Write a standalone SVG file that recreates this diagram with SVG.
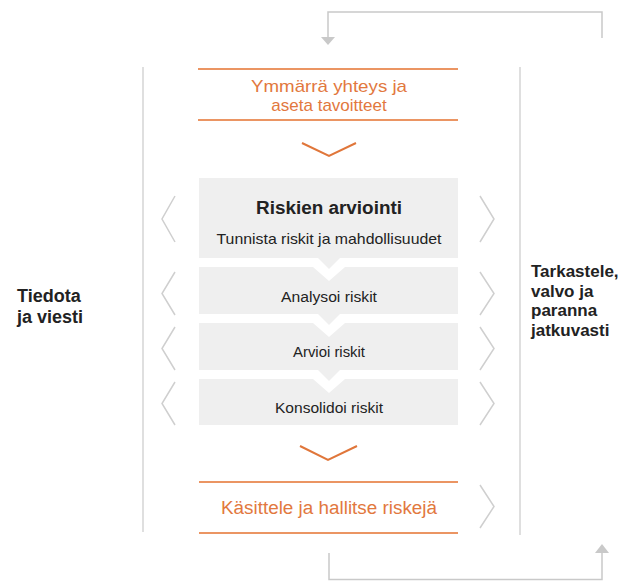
<svg xmlns="http://www.w3.org/2000/svg" width="629" height="581" viewBox="0 0 629 581">
<defs>
<style>
.conn{fill:none;stroke:#c9c9c9;stroke-width:1.5}
.head{fill:#c9c9c9}
.rail{stroke:#d4d4d4;stroke-width:1.5}
.side{fill:none;stroke:#cfcfcf;stroke-width:1.5}
.oline{stroke:#eb9563;stroke-width:2}
.ochev{fill:none;stroke:#e0763a;stroke-width:2}
.box{fill:#efefef}
.notch{fill:#ffffff}
.otext{font-family:"Liberation Sans",Arial,sans-serif;fill:#e2783e;text-anchor:middle}
.dtext{font-family:"Liberation Sans",Arial,sans-serif;fill:#222222}
.btext{font-family:"Liberation Sans",Arial,sans-serif;fill:#222222;text-anchor:middle}
</style>
</defs>
<g id="connectors">
<polyline class="conn" points="602,38 602,12 328,12 328,37"/>
<polygon class="head" points="321,37 335,37 328,45"/>
<polyline class="conn" points="329,553 329,579.5 602,579.5 602,553"/>
<polygon class="head" points="595,553 609,553 602,544"/>
<line class="rail" x1="143" y1="67" x2="143" y2="532"/>
<line class="rail" x1="520" y1="67" x2="520" y2="535"/>
<polyline class="ochev" points="302,143 329,156 356,143"/>
<polyline class="ochev" points="300,446 328,460 357,446"/>
</g>
<g id="node-context">
<line class="oline" x1="198" y1="69" x2="458" y2="69"/>
<line class="oline" x1="198" y1="120" x2="458" y2="120"/>
<text class="otext" x="329" y="92" font-size="17" textLength="156" lengthAdjust="spacingAndGlyphs">Ymmärrä yhteys ja</text>
<text class="otext" x="329" y="111" font-size="17">aseta tavoitteet</text>
</g>
<g id="node-konsolidoi">
<rect class="box" x="199" y="379" width="259" height="46"/>
<polygon class="notch" points="313,379 345,379 329,393"/>
<text class="btext" x="329" y="413" font-size="14" textLength="108" lengthAdjust="spacingAndGlyphs">Konsolidoi riskit</text>
<polyline class="side" points="175,382 162,403.5 175,425"/>
<polyline class="side" points="480,382 494,403.5 480,425"/>
</g>
<g id="node-arvioi">
<rect class="box" x="199" y="323" width="259" height="47"/>
<polygon class="notch" points="313,323 345,323 329,337"/>
<polygon class="box" points="318,370 340,370 329,381"/>
<text class="btext" x="329" y="357" font-size="14" textLength="72" lengthAdjust="spacingAndGlyphs">Arvioi riskit</text>
<polyline class="side" points="175,327 162,348.5 175,370"/>
<polyline class="side" points="480,327 494,348.5 480,370"/>
</g>
<g id="node-analysoi">
<rect class="box" x="199" y="267" width="259" height="47"/>
<polygon class="notch" points="313,267 345,267 329,281"/>
<polygon class="box" points="318,314 340,314 329,325"/>
<text class="btext" x="329" y="302" font-size="14" textLength="96" lengthAdjust="spacingAndGlyphs">Analysoi riskit</text>
<polyline class="side" points="175,272 162,293.5 175,315"/>
<polyline class="side" points="480,272 494,293.5 480,315"/>
</g>
<g id="node-arviointi">
<rect class="box" x="199" y="178" width="259" height="80"/>
<polygon class="box" points="318,258 340,258 329,269"/>
<text class="btext" x="329" y="214" font-size="18" font-weight="bold" textLength="146" lengthAdjust="spacingAndGlyphs">Riskien arviointi</text>
<text class="btext" x="329" y="244" font-size="15" textLength="225" lengthAdjust="spacingAndGlyphs">Tunnista riskit ja mahdollisuudet</text>
<polyline class="side" points="175,196 162,219 175,242"/>
<polyline class="side" points="480,196 494,219 480,242"/>
</g>
<g id="node-kasittele">
<line class="oline" x1="199" y1="482" x2="458" y2="482"/>
<line class="oline" x1="199" y1="533" x2="458" y2="533"/>
<text class="otext" x="329" y="514" font-size="18" textLength="216" lengthAdjust="spacingAndGlyphs">Käsittele ja hallitse riskejä</text>
<polyline class="side" points="480,485 494,506.5 480,528"/>
</g>
<g id="node-tiedota">
<text class="dtext" x="17" y="302" font-size="18" font-weight="bold">Tiedota</text>
<text class="dtext" x="17" y="323" font-size="18" font-weight="bold">ja viesti</text>
</g>
<g id="node-tarkastele">
<text class="dtext" x="531" y="277" font-size="17" font-weight="bold">Tarkastele,</text>
<text class="dtext" x="531" y="296.5" font-size="17" font-weight="bold">valvo ja</text>
<text class="dtext" x="531" y="316" font-size="17" font-weight="bold">paranna</text>
<text class="dtext" x="531" y="335.5" font-size="17" font-weight="bold">jatkuvasti</text>
</g>
</svg>
